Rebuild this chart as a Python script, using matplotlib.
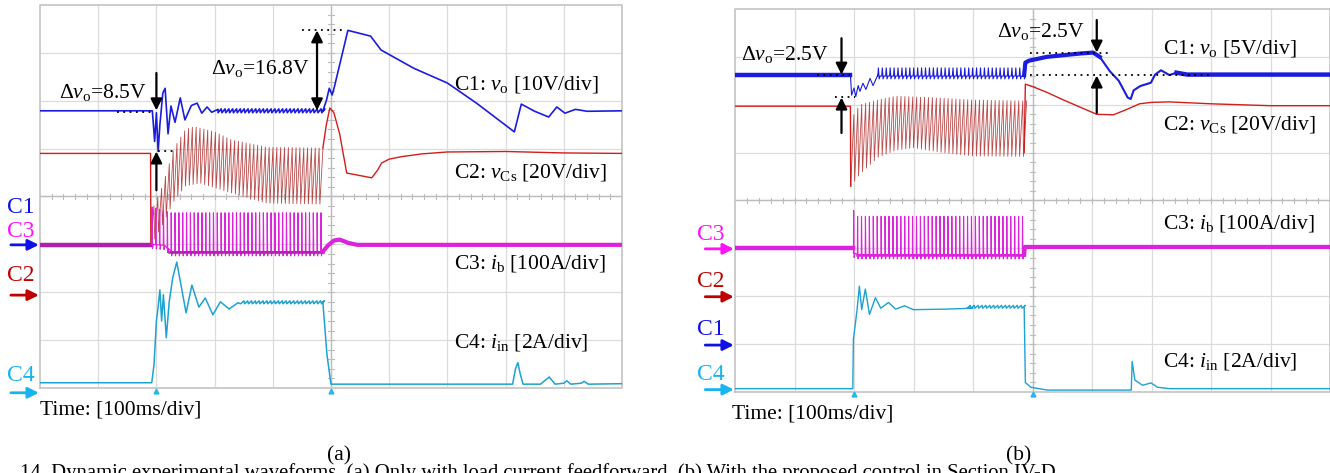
import numpy as np
import matplotlib
matplotlib.use("Agg")
import matplotlib.pyplot as plt

plt.rcParams['font.family'] = ['Liberation Serif', 'DejaVu Serif']
plt.rcParams['mathtext.fontset'] = 'custom'
plt.rcParams['mathtext.rm'] = 'Liberation Serif'
plt.rcParams['mathtext.it'] = 'Liberation Serif:italic'

# ---------------- channel colours ----------------
BLUE = '#1c1ce0'
RED = '#d41c1c'
RED_SW = '#b02a2a'
MAG = '#dd22dd'
MAG_DARK = '#b020b0'
CYAN = '#1ea2d2'
LBL = {'C1': '#1010e8', 'C2': '#c00000', 'C3': '#ff10ff', 'C4': '#18b4f0'}

# switching period of the converter, in screen divisions
SW_PERIOD = 0.066

# =============== (a) only feedforward ===============
# C1: v_o [10V/div]
VO_A_PRE_X = [0, 1.93, 1.97, 2.00, 2.03, 2.06, 2.11, 2.15, 2.20, 2.25, 2.32, 2.41, 2.49, 2.60, 2.70, 2.78, 2.87, 2.95, 3.06]
VO_A_PRE_Y = [1.79, 1.79, 1.15, 1.75, 0.94, 1.50, 2.16, 2.26, 1.31, 1.89, 1.55, 2.06, 1.60, 1.90, 1.95, 1.74, 1.87, 1.76, 1.82]
VO_A_POST_X = [4.86, 4.92, 4.97, 5.02, 5.06, 5.29, 5.68, 5.86, 6.42, 7.00, 7.50, 8.15, 8.27, 8.50, 8.74, 8.88, 9.02, 9.20, 9.40, 10]
VO_A_POST_Y = [1.79, 2.00, 2.26, 2.12, 2.30, 3.47, 3.35, 3.06, 2.68, 2.37, 1.95, 1.35, 1.93, 1.78, 1.66, 1.87, 1.74, 1.82, 1.78, 1.79]
VO_A_RIPPLE = 0.04

# C2: v_Cs [20V/div]
VCS_A_PRE_X = [0, 1.90, 1.905]
VCS_A_PRE_Y = [0.90, 0.90, -1.0]
VCS_A_TOP_X = [1.92, 2.10, 2.30, 2.50, 2.65, 3.00, 3.30, 3.90, 4.86]
VCS_A_TOP_Y = [-0.30, 0.20, 1.00, 1.40, 1.46, 1.35, 1.18, 1.03, 1.01]
VCS_A_BOT_X = [1.92, 2.10, 2.30, 2.50, 2.75, 3.30, 3.90, 4.86]
VCS_A_BOT_Y = [-1.00, -0.60, -0.10, 0.22, 0.28, 0.07, -0.14, -0.16]
VCS_A_POST_X = [4.86, 4.92, 4.98, 5.05, 5.15, 5.27, 5.70, 5.80, 5.87, 6.00, 6.20, 6.56, 7.00, 8.00, 9.00, 10]
VCS_A_POST_Y = [1.01, 1.50, 1.85, 1.75, 1.30, 0.49, 0.39, 0.55, 0.70, 0.78, 0.83, 0.89, 0.93, 0.94, 0.91, 0.90]

# C3: i_b [100A/div]
IB_A_BASE = -1.01
IB_A_SW_X = [1.92, 2.15, 2.22, 4.86]
IB_A_SW_BASE = [-1.00, -1.02, -1.15, -1.15]
IB_A_SW_TOP = [-0.22, -0.30, -0.34, -0.34]
IB_A_POST_X = [4.86, 4.95, 5.05, 5.15, 5.30, 5.45, 10]
IB_A_POST_Y = [-1.15, -1.02, -0.92, -0.90, -0.97, -1.01, -1.01]

# C4: i_in [2A/div]
IIN_A_X = [0, 1.92, 1.96, 2.00, 2.03, 2.06, 2.09, 2.12, 2.17, 2.22, 2.28, 2.35, 2.43, 2.51, 2.61, 2.73, 2.84, 2.97, 3.10, 3.25, 3.40,
           4.86, 4.93, 5.00, 8.12, 8.17, 8.21, 8.25, 8.30, 8.60, 8.75, 8.85, 9.00, 9.05, 9.12, 9.30, 9.35, 9.42, 10]
IIN_A_Y = [-3.89, -3.89, -3.50, -2.60, -2.30, -1.95, -2.60, -2.05, -2.95, -2.20, -1.70, -1.37, -1.90, -2.43, -1.85, -2.31, -2.12, -2.47, -2.20, -2.35, -2.22,
           -2.20, -3.30, -3.92, -3.92, -3.60, -3.47, -3.70, -3.92, -3.92, -3.77, -3.92, -3.90, -3.85, -3.92, -3.90, -3.86, -3.92, -3.91]

# =============== (b) proposed control ===============
VO_B_PRE_X = [0, 1.94, 1.96, 2.00, 2.03, 2.07, 2.10, 2.15, 2.20, 2.27, 2.32, 2.40]
VO_B_PRE_Y = [2.62, 2.62, 2.20, 2.35, 2.17, 2.40, 2.28, 2.45, 2.32, 2.55, 2.40, 2.62]
VO_B_SW_END = 4.86
VO_B_RIPPLE = 0.17
VO_B_POST_X = [4.86, 4.88, 4.94, 5.24, 5.80, 6.02, 6.13, 6.30, 6.45, 6.60, 6.65, 6.70, 6.81, 6.99, 7.06, 7.16, 7.30, 7.42, 7.60, 10]
VO_B_POST_Y = [2.62, 2.88, 2.92, 3.00, 3.07, 3.09, 3.00, 2.70, 2.50, 2.15, 2.12, 2.30, 2.39, 2.46, 2.63, 2.72, 2.62, 2.67, 2.63, 2.63]

VCS_B_PRE_X = [0, 1.94, 1.945]
VCS_B_PRE_Y = [1.97, 1.97, 0.30]
VCS_B_TOP_X = [1.95, 2.10, 2.40, 2.70, 3.30, 4.00, 4.86]
VCS_B_TOP_Y = [1.70, 2.00, 2.10, 2.18, 2.15, 2.10, 2.08]
VCS_B_BOT_X = [1.95, 2.10, 2.40, 2.70, 3.00, 3.50, 4.00, 4.86]
VCS_B_BOT_Y = [0.30, 0.55, 0.90, 1.05, 1.10, 1.00, 0.93, 0.92]
VCS_B_POST_X = [4.86, 4.88, 5.00, 5.24, 5.52, 5.80, 6.08, 6.36, 6.58, 6.80, 7.00, 7.30, 8.00, 9.00, 10]
VCS_B_POST_Y = [1.00, 2.43, 2.38, 2.26, 2.10, 1.95, 1.80, 1.79, 1.90, 2.02, 2.05, 2.06, 2.02, 1.98, 1.98]

IB_B_BASE = -0.99
IB_B_SW_X = [1.99, 2.05, 4.86]
IB_B_SW_BASE = [-1.10, -1.13, -1.13]
IB_B_SW_TOP = [-0.21, -0.33, -0.33]
IB_B_POST = -0.97

IIN_B_X = [0, 1.98, 1.99, 2.05, 2.09, 2.13, 2.19, 2.26, 2.36, 2.45, 2.58, 2.70, 2.85, 3.00, 3.50, 4.00, 4.86,
           4.88, 4.97, 5.25, 6.66, 6.675, 6.72, 6.85, 6.99, 7.10, 7.30, 10]
IIN_B_Y = [-3.93, -3.93, -2.90, -2.30, -1.79, -2.28, -1.85, -2.38, -2.03, -2.25, -2.13, -2.27, -2.20, -2.28, -2.27, -2.25, -2.22,
           -3.80, -3.90, -3.96, -3.96, -3.36, -3.75, -3.86, -3.81, -3.90, -3.93, -3.93]


def saw_band(x0, x1, ex_t, ey_t, ex_b, ey_b, rise=0.8):
    starts = np.arange(x0, x1, SW_PERIOD)
    xs, ys = [], []
    for s in starts:
        xs += [s, s + rise * SW_PERIOD]
        ys += [np.interp(s, ex_b, ey_b), np.interp(s + rise * SW_PERIOD, ex_t, ey_t)]
    return np.array(xs), np.array(ys)


def spike_train(x0, x1, ex, ebase, etop, dip=0.09, w=0.012):
    starts = np.arange(x0, x1, SW_PERIOD)
    xs, ys = [], []
    for s in starts:
        b = np.interp(s, ex, ebase)
        t = np.interp(s, ex, etop)
        xs += [s, s + 0.35 * w, s + w, s + 2 * w]
        ys += [b, t, b - dip, b]
    return np.array(xs), np.array(ys)


def ripple(x0, x1, level, amp, up_only=False):
    starts = np.arange(x0, x1, SW_PERIOD)
    xs, ys = [], []
    for s in starts:
        if up_only:
            xs += [s, s + 0.15 * SW_PERIOD, s + 0.35 * SW_PERIOD, s + 0.6 * SW_PERIOD]
            ys += [level, level + amp, level - 0.35 * amp, level]
        else:
            xs += [s, s + 0.8 * SW_PERIOD]
            ys += [level - amp, level + amp]
    return np.array(xs), np.array(ys)


def scope_grid(ax):
    ax.set_xlim(0, 10)
    ax.set_ylim(-4, 4)
    ax.set_axis_off()
    for x in range(1, 10):
        ax.plot([x, x], [-4, 4], color='#dcdcdc', lw=0.9, zorder=0)
    for y in range(-3, 4):
        ax.plot([0, 10], [y, y], color='#dcdcdc', lw=0.9, zorder=0)
    ax.plot([5, 5], [-4, 4], color='#bdbdbd', lw=1.0, zorder=0)
    ax.plot([0, 10], [0, 0], color='#bdbdbd', lw=1.0, zorder=0)
    tx = np.arange(0.2, 10, 0.2)
    ax.plot(np.repeat(tx, 3), np.tile([-0.06, 0.06, np.nan], len(tx)), color='#bdbdbd', lw=0.8, zorder=0)
    ty = np.arange(-3.8, 4, 0.2)
    ax.plot(np.tile([4.95, 5.05, np.nan], len(ty)), np.repeat(ty, 3), color='#bdbdbd', lw=0.8, zorder=0)
    ax.plot([0, 10, 10, 0, 0], [-4, -4, 4, 4, -4], color='#c4c4c4', lw=1.2, zorder=0, clip_on=False)


def arrow(ax, x, y0, y1, both=False):
    style = '<|-|>' if both else '-|>'
    ax.annotate('', xy=(x, y1), xytext=(x, y0),
                arrowprops=dict(arrowstyle=style, color='black', lw=1.6, mutation_scale=17,
                                shrinkA=0, shrinkB=0), annotation_clip=False, zorder=6)


def dotted(ax, x0, x1, y):
    ax.plot([x0, x1], [y, y], color='black', lw=1.3, ls=(0, (1, 2.5)), zorder=6)


def channel_marks(ax, marks, xlab, xa0, xa1):
    for name, ylab, yarr in marks:
        c = LBL[name]
        ax.text(xlab, ylab, name, color=c, fontsize=17, ha='center', va='center', clip_on=False)
        if yarr is None:
            continue
        ax.annotate('', xy=(xa1, yarr), xytext=(xa0, yarr),
                    arrowprops=dict(arrowstyle='-|>', color=c, lw=2.0, mutation_scale=16, shrinkA=0, shrinkB=0),
                    annotation_clip=False)


FS = 15.5
fig = plt.figure(figsize=(13.3, 4.73), dpi=100)
axa = fig.add_axes([40 / 1330, 85 / 473, 582 / 1330, 383 / 473])
axb = fig.add_axes([735 / 1330, 81 / 473, 595 / 1330, 383 / 473])

# ---------------- panel (a) ----------------
ax = axa
scope_grid(ax)
# v_Cs
ax.plot(VCS_A_PRE_X, VCS_A_PRE_Y, color=RED, lw=1.0, zorder=2)
sx, sy = saw_band(1.905, 4.86, VCS_A_TOP_X, VCS_A_TOP_Y, VCS_A_BOT_X, VCS_A_BOT_Y)
ax.plot(sx, sy, color=RED_SW, lw=0.6, alpha=0.85, zorder=2)
ax.plot(VCS_A_POST_X, VCS_A_POST_Y, color=RED, lw=1.0, zorder=2)
# i_b
ax.plot([0, 1.91], [IB_A_BASE, IB_A_BASE], color=MAG_DARK, lw=3.2, zorder=3)
px, py = spike_train(1.92, 4.86, IB_A_SW_X, IB_A_SW_BASE, IB_A_SW_TOP)
ax.plot(px, py, color=MAG, lw=0.8, zorder=3)
ax.plot([2.22, 4.86], [-1.15, -1.15], color=MAG_DARK, lw=1.8, zorder=3)
ax.plot(IB_A_POST_X, IB_A_POST_Y, color=MAG, lw=3.0, zorder=3)
# v_o
rx, ry = ripple(3.06, 4.86, 1.79, VO_A_RIPPLE)
vx = np.concatenate([VO_A_PRE_X, rx, VO_A_POST_X])
vy = np.concatenate([VO_A_PRE_Y, ry, VO_A_POST_Y])
ax.plot(vx, vy, color=BLUE, lw=1.2, zorder=4)
# i_in
cx, cy = ripple(3.45, 4.85, -2.21, 0.03)
ix = np.concatenate([IIN_A_X[:21], cx, IIN_A_X[21:]])
iy = np.concatenate([IIN_A_Y[:21], cy, IIN_A_Y[21:]])
ax.plot(ix, iy, color=CYAN, lw=1.1, zorder=4)

# annotations
dotted(ax, 1.33, 1.95, 1.76)
dotted(ax, 2.03, 2.36, 0.94)
arrow(ax, 2.0, 2.58, 1.80)
arrow(ax, 2.0, 0.13, 0.94)
dotted(ax, 4.50, 5.26, 3.47)
arrow(ax, 4.76, 1.80, 3.47, both=True)
ax.text(0.32, 2.18, r'Δ$\mathit{v}_\mathrm{o}$=8.5V', fontsize=FS, ha='left', va='center')
ax.text(2.94, 2.68, r'Δ$\mathit{v}_\mathrm{o}$=16.8V', fontsize=FS, ha='left', va='center')
ax.text(7.11, 2.33, r'C1: $\mathit{v}_\mathrm{o}$ [10V/div]', fontsize=FS, ha='left', va='center')
ax.text(7.11, 0.51, r'C2: $\mathit{v}_\mathrm{Cs}$ [20V/div]', fontsize=FS, ha='left', va='center')
ax.text(7.11, -1.39, r'C3: $\mathit{i}_\mathrm{b}$ [100A/div]', fontsize=FS, ha='left', va='center')
ax.text(7.11, -3.04, r'C4: $\mathit{i}_\mathrm{in}$ [2A/div]', fontsize=FS, ha='left', va='center')
channel_marks(ax, [('C1', -0.24, -1.01), ('C3', -0.74, None), ('C2', -1.64, -2.06), ('C4', -3.73, -4.10)],
              -0.33, -0.50, -0.02)
ax.plot([2.0, 5.0], [-4.07, -4.07], ls='none', marker='^', ms=3.5, color='#2ab4f0', clip_on=False)
ax.text(0.0, -4.45, 'Time: [100ms/div]', fontsize=FS, ha='left', va='center', clip_on=False)

# ---------------- panel (b) ----------------
ax = axb
scope_grid(ax)
ax.plot(VCS_B_PRE_X, VCS_B_PRE_Y, color=RED, lw=1.0, zorder=2)
sx, sy = saw_band(1.945, 4.86, VCS_B_TOP_X, VCS_B_TOP_Y, VCS_B_BOT_X, VCS_B_BOT_Y)
ax.plot(sx, sy, color=RED_SW, lw=0.6, alpha=0.85, zorder=2)
ax.plot(VCS_B_POST_X, VCS_B_POST_Y, color=RED, lw=1.0, zorder=2)
ax.plot([0, 1.99], [IB_B_BASE, IB_B_BASE], color=MAG, lw=3.2, zorder=3)
px, py = spike_train(1.99, 4.86, IB_B_SW_X, IB_B_SW_BASE, IB_B_SW_TOP)
ax.plot(px, py, color=MAG, lw=0.8, zorder=3)
ax.plot([2.05, 4.86], [-1.13, -1.13], color=MAG, lw=1.8, zorder=3)
ax.plot([4.86, 4.87, 10], [-1.13, IB_B_POST, IB_B_POST], color=MAG, lw=3.0, zorder=3)
ax.plot(VO_B_PRE_X[:2], VO_B_PRE_Y[:2], color=BLUE, lw=3.2, zorder=4)
rx, ry = ripple(2.40, VO_B_SW_END, 2.60, VO_B_RIPPLE, up_only=True)
vx = np.concatenate([VO_B_PRE_X[1:], rx, [VO_B_SW_END]])
vy = np.concatenate([VO_B_PRE_Y[1:], ry, [2.62]])
ax.plot(vx, vy, color=BLUE, lw=0.8, zorder=4)
ax.plot(VO_B_POST_X[:7], VO_B_POST_Y[:7], color=BLUE, lw=3.0, zorder=4)
ax.plot(VO_B_POST_X[6:], VO_B_POST_Y[6:], color=BLUE, lw=1.5, zorder=4)
ax.plot(VO_B_POST_X[-3:], VO_B_POST_Y[-3:], color=BLUE, lw=3.2, zorder=4)
cx, cy = ripple(3.9, 4.84, -2.22, 0.03)
ix = np.concatenate([IIN_B_X[:16], cx, IIN_B_X[16:]])
iy = np.concatenate([IIN_B_Y[:16], cy, IIN_B_Y[16:]])
ax.plot(ix, iy, color=CYAN, lw=1.0, zorder=4)

dotted(ax, 1.38, 1.93, 2.62)
dotted(ax, 1.68, 2.02, 2.16)
arrow(ax, 1.79, 3.39, 2.63)
arrow(ax, 1.79, 1.41, 2.15)
dotted(ax, 4.96, 8.02, 2.62)
dotted(ax, 4.96, 6.30, 3.08)
arrow(ax, 6.08, 3.77, 3.09)
arrow(ax, 6.08, 1.83, 2.61)
ax.text(0.10, 3.04, r'Δ$\mathit{v}_\mathrm{o}$=2.5V', fontsize=FS, ha='left', va='center')
ax.text(4.40, 3.52, r'Δ$\mathit{v}_\mathrm{o}$=2.5V', fontsize=FS, ha='left', va='center')
ax.text(7.19, 3.18, r'C1: $\mathit{v}_\mathrm{o}$ [5V/div]', fontsize=FS, ha='left', va='center')
ax.text(7.19, 1.58, r'C2: $\mathit{v}_\mathrm{Cs}$ [20V/div]', fontsize=FS, ha='left', va='center')
ax.text(7.19, -0.49, r'C3: $\mathit{i}_\mathrm{b}$ [100A/div]', fontsize=FS, ha='left', va='center')
ax.text(7.19, -3.37, r'C4: $\mathit{i}_\mathrm{in}$ [2A/div]', fontsize=FS, ha='left', va='center')
channel_marks(ax, [('C3', -0.72, -1.01), ('C2', -1.70, -2.01), ('C1', -2.70, -3.02), ('C4', -3.64, -3.95)],
              -0.40, -0.50, -0.02)
ax.plot([2.0, 5.0], [-4.05, -4.05], ls='none', marker='^', ms=3.5, color='#2ab4f0', clip_on=False)
ax.text(-0.05, -4.45, 'Time: [100ms/div]', fontsize=FS, ha='left', va='center', clip_on=False)

# sub-figure tags and caption
fig.text(339 / 1330, 1 - 456 / 473, '(a)', fontsize=FS, ha='center', va='center')
fig.text(1019 / 1330, 1 - 456 / 473, '(b)', fontsize=FS, ha='center', va='center')
fig.text(20 / 1330, 1 - 463 / 473,
         '14. Dynamic experimental waveforms. (a) Only with load current feedforward. (b) With the proposed control in Section IV-D.',
         fontsize=14.9, ha='left', va='top')

fig.savefig('out.png', dpi=100)
